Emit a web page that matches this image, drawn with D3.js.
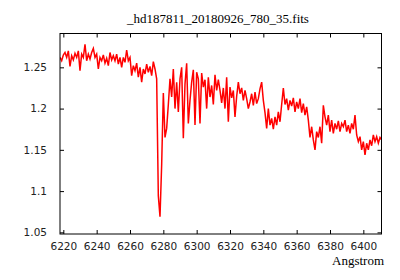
<!DOCTYPE html>
<html>
<head>
<meta charset="utf-8">
<script src="https://cdn.jsdelivr.net/npm/d3@7"></script>
<style>
  body { margin: 0; background: #fff; }
  svg { display: block; }
</style>
</head>
<body>
<svg id="chart" width="400" height="280"></svg>
<script>
// spectrum, sampled every 1 Angstrom from 6218
const titleText = "_hd187811_20180926_780_35.fits";
const xLabel    = "Angstrom";
const lambdaStart = 6218;
const flux = [
  1.262, 1.258, 1.265, 1.268, 1.262, 1.270, 1.251, 1.264, 1.259, 1.267,
  1.262, 1.270, 1.246, 1.266, 1.262, 1.278, 1.258, 1.266, 1.260, 1.268,
  1.273, 1.262, 1.266, 1.248, 1.262, 1.258, 1.265, 1.255, 1.261, 1.252,
  1.268, 1.259, 1.264, 1.258, 1.266, 1.254, 1.262, 1.250, 1.262, 1.256,
  1.271, 1.258, 1.262, 1.240, 1.252, 1.246, 1.255, 1.238, 1.250, 1.232,
  1.248, 1.242, 1.254, 1.244, 1.251, 1.240, 1.257, 1.248, 1.236, 1.094,
  1.069, 1.132, 1.219, 1.165, 1.176, 1.205, 1.236, 1.214, 1.248, 1.200,
  1.232, 1.196, 1.236, 1.250, 1.164, 1.230, 1.255, 1.182, 1.210, 1.232,
  1.247, 1.180, 1.244, 1.236, 1.182, 1.243, 1.226, 1.235, 1.200, 1.238,
  1.214, 1.228, 1.205, 1.241, 1.222, 1.235, 1.222, 1.207, 1.225, 1.200,
  1.238, 1.184, 1.226, 1.213, 1.222, 1.190, 1.215, 1.232, 1.218, 1.225,
  1.210, 1.222, 1.212, 1.200, 1.208, 1.218, 1.204, 1.220, 1.206, 1.212,
  1.224, 1.232, 1.210, 1.195, 1.176, 1.200, 1.180, 1.188, 1.175, 1.190,
  1.180, 1.196, 1.184, 1.205, 1.225, 1.205, 1.212, 1.198, 1.210, 1.203,
  1.213, 1.196, 1.208, 1.200, 1.212, 1.195, 1.206, 1.192, 1.202, 1.186,
  1.165, 1.178, 1.162, 1.150, 1.172, 1.165, 1.178, 1.158, 1.204, 1.190,
  1.180, 1.192, 1.172, 1.186, 1.170, 1.182, 1.175, 1.185, 1.172, 1.182,
  1.178, 1.186, 1.172, 1.180, 1.170, 1.182, 1.175, 1.192, 1.168, 1.160,
  1.166, 1.150, 1.160, 1.144, 1.158, 1.150, 1.162, 1.155, 1.168, 1.160,
  1.166, 1.158, 1.165, 1.162
];
const xTicks = [6220, 6240, 6260, 6280, 6300, 6320, 6340, 6360, 6380, 6400];
const yTicks = [1.05, 1.1, 1.15, 1.2, 1.25];
const yTickLabels = ["1.05", "1.1", "1.15", "1.2", "1.25"];

const svg = d3.select("#chart");
const plotLeft = 60, plotRight = 381.5, plotTop = 33.5, plotBottom = 234;

const x = d3.scaleLinear().domain([6218, 6410.9]).range([plotLeft, plotRight]);
const y = d3.scaleLinear().domain([1.048, 1.291]).range([plotBottom, plotTop]);

const points = flux.map((v, i) => [lambdaStart + i, v]);

svg.append("clipPath").attr("id", "plotClip")
  .append("rect")
    .attr("x", plotLeft).attr("y", plotTop)
    .attr("width", plotRight - plotLeft).attr("height", plotBottom - plotTop);

// spectrum
svg.append("path")
  .datum(points)
  .attr("clip-path", "url(#plotClip)")
  .attr("fill", "none")
  .attr("stroke", "#ff0000")
  .attr("stroke-width", 1.5)
  .attr("stroke-linejoin", "miter")
  .attr("d", d3.line().x(d => x(d[0])).y(d => y(d[1])));

// axes: ticks inside, mirrored on top and right
const tickFont = "'DejaVu Sans', sans-serif";
const xBottom = d3.axisBottom(x).tickValues(xTicks).tickSizeInner(-4).tickSizeOuter(0).tickPadding(9)
  .tickFormat(d3.format("d"));
const xTop    = d3.axisTop(x).tickValues(xTicks).tickSizeInner(-4).tickSizeOuter(0).tickFormat("");
const yLeft   = d3.axisLeft(y).tickValues(yTicks).tickSizeInner(-4).tickSizeOuter(0).tickPadding(13)
  .tickFormat((d, i) => yTickLabels[i]);
const yRight  = d3.axisRight(y).tickValues(yTicks).tickSizeInner(-4).tickSizeOuter(0).tickFormat("");

function styleAxis(g) {
  g.select(".domain").remove();
  g.selectAll("line").attr("stroke", "#000");
  g.selectAll("text").attr("fill", "#222").style("font-family", tickFont).style("font-size", "10.5px");
}

svg.append("g").attr("transform", `translate(0,${plotBottom})`).call(xBottom).call(styleAxis);
svg.append("g").attr("transform", `translate(0,${plotTop})`).call(xTop).call(styleAxis);
svg.append("g").attr("transform", `translate(${plotLeft},0)`).call(yLeft).call(styleAxis);
svg.append("g").attr("transform", `translate(${plotRight},0)`).call(yRight).call(styleAxis);

// frame
svg.append("rect")
  .attr("x", plotLeft).attr("y", plotTop)
  .attr("width", plotRight - plotLeft).attr("height", plotBottom - plotTop)
  .attr("fill", "none").attr("stroke", "#000").attr("stroke-width", 1);

svg.append("text")
  .attr("x", 218).attr("y", 23)
  .attr("text-anchor", "middle")
  .style("font-family", "'Liberation Serif', serif")
  .style("font-size", "13px")
  .text(titleText);

svg.append("text")
  .attr("x", 384).attr("y", 265)
  .attr("text-anchor", "end")
  .style("font-family", "'Liberation Serif', serif")
  .style("font-size", "13px")
  .text(xLabel);
</script>
</body>
</html>
